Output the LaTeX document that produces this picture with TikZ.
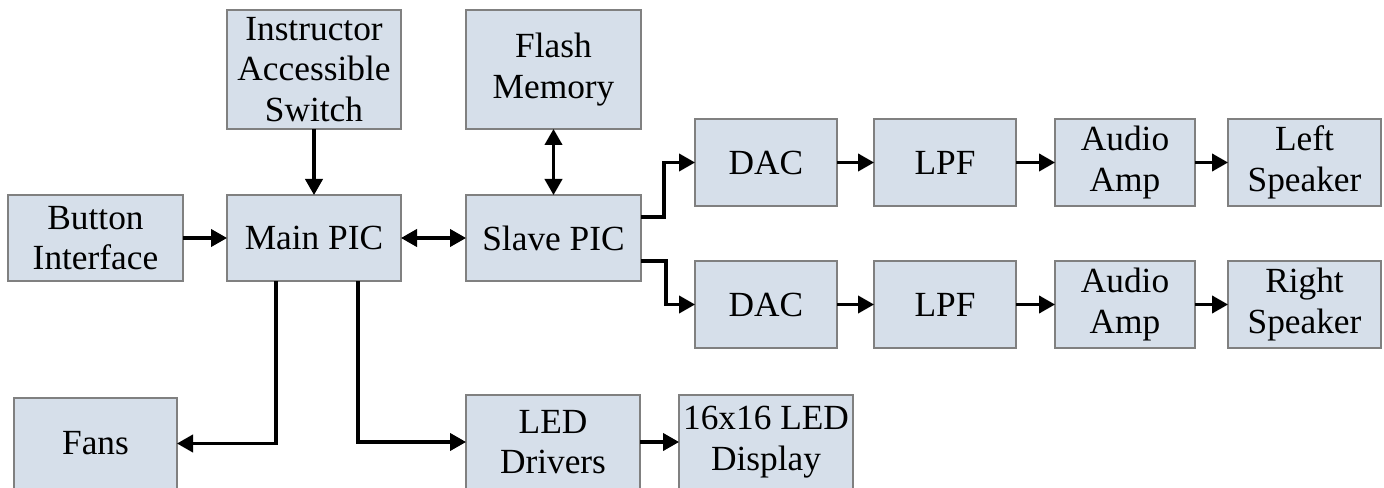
\documentclass[tikz,border=0pt]{standalone}
\usepackage{fontspec}
\setmainfont{Liberation Serif}
\usetikzlibrary{arrows.meta}
\definecolor{boxfill}{HTML}{D6DFEA}
\definecolor{boxline}{HTML}{808080}
\tikzset{
  blk/.style={draw=boxline, fill=boxfill, line width=0.8pt, inner sep=0pt, outer sep=0pt,
    align=center, font=\fontsize{26.5}{30.5}\selectfont},
  conn/.style={line width=2.3pt, -{Triangle[length=12pt,width=13pt]}},
  bconn/.style={line width=2.3pt, {Triangle[length=12pt,width=13pt]}-{Triangle[length=12pt,width=13pt]}}
}
\newcommand\blkbox[6]{\node[blk, minimum width={(#4-#2)*0.75pt}, minimum height={(#5-#3)*0.75pt}] (#1) at ({(#2+#4)/2},{(#3+#5)/2}) {#6};}
\begin{document}
\begin{tikzpicture}[x=0.75pt,y=-0.75pt]
\useasboundingbox (0,0) rectangle (1384,488);
\blkbox{instr}{227}{10}{401}{129}{Instructor\\Accessible\\Switch}
\blkbox{button}{8}{195}{183}{281}{Button\\Interface}
\blkbox{main}{227}{195}{401}{281}{Main PIC}
\blkbox{flash}{466}{10}{641}{129}{Flash\\Memory}
\blkbox{slave}{466}{195}{641}{281}{Slave PIC}
\blkbox{dacA}{695}{119}{837}{206}{DAC}
\blkbox{lpfA}{874}{119}{1016}{206}{LPF}
\blkbox{ampA}{1055}{119}{1195}{206}{Audio\\Amp}
\blkbox{spkA}{1228}{119}{1381}{206}{Left\\Speaker}
\blkbox{dacB}{695}{261}{837}{348}{DAC}
\blkbox{lpfB}{874}{261}{1016}{348}{LPF}
\blkbox{ampB}{1055}{261}{1195}{348}{Audio\\Amp}
\blkbox{spkB}{1228}{261}{1381}{348}{Right\\Speaker}
\blkbox{fans}{14}{398}{177}{489}{Fans}
\blkbox{led}{466}{395}{640}{489}{LED\\Drivers}
\blkbox{disp}{679}{395}{853}{489}{16x16 LED\\Display}

\draw[conn] (instr) -- (main);
\draw[conn] (button) -- (main);
\draw[bconn] (main) -- (slave);
\draw[bconn] (flash) -- (slave);
\draw[conn] ([yshift=15.75pt]slave.east) -- ++(23,0) |- (dacA.west);
\draw[conn] ([yshift=-17.25pt]slave.east) -- ++(25,0) |- (dacB.west);
\draw[conn] (dacA) -- (lpfA);
\draw[conn] (lpfA) -- (ampA);
\draw[conn] (ampA) -- (spkA);
\draw[conn] (dacB) -- (lpfB);
\draw[conn] (lpfB) -- (ampB);
\draw[conn] (ampB) -- (spkB);
\draw[conn] ([xshift=-28.5pt]main.south) |- (fans.east);
\draw[conn] ([xshift=33pt]main.south) |- (led.west);
\draw[conn] (led) -- (disp);
\end{tikzpicture}
\end{document}
